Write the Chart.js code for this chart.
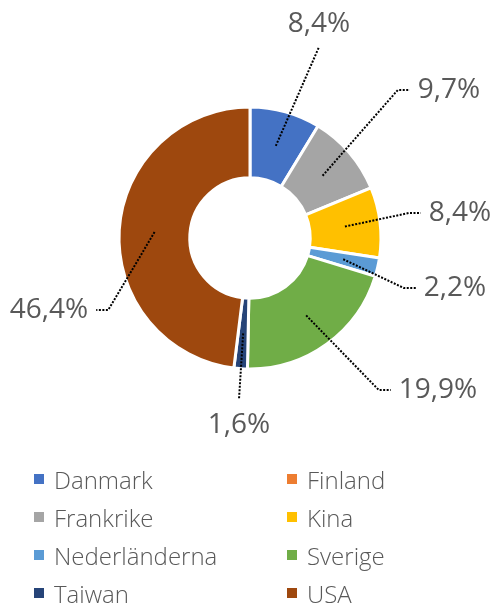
<!DOCTYPE html>
<html>
<head>
<meta charset="utf-8">
<script src="https://cdn.jsdelivr.net/npm/chart.js@4.4.1/dist/chart.umd.min.js"></script>
<style>
  html, body { margin: 0; padding: 0; background: #fff; }
  #wrap { position: relative; width: 495px; height: 606px; overflow: hidden; }
  #chart { position: absolute; left: 0; top: 0; }
  #legend {
    position: absolute; left: 34px; top: 460px; width: 461px;
    display: grid; grid-template-columns: 253px 200px;
    font-family: "Open Sans", sans-serif; font-weight: 300; font-size: 24px; color: #595959;
  }
  .item { display: flex; align-items: center; height: 38px; white-space: nowrap; }
  .box { width: 10px; height: 10px; margin-right: 10px; flex: none; }
</style>
</head>
<body>
<div id="wrap">
  <canvas id="chart" width="495" height="606"></canvas>
  <div id="legend"></div>
</div>
<script>
// Data (share of total, %)
const countries = ['Danmark', 'Finland', 'Frankrike', 'Kina', 'Nederländerna', 'Sverige', 'Taiwan', 'USA'];
const shares = [8.4, 0, 9.7, 8.4, 2.2, 19.9, 1.6, 46.4];
const colors = ['#4472C4', '#ED7D31', '#A5A5A5', '#FFC000', '#5B9BD5', '#70AD47', '#264478', '#9E480E'];

// where each data label sits, relative to the doughnut centre, and which side the leader line meets it
const labelSpots = [[69, -214, 'top'], null, [199, -148, 'right'], [210, -25, 'right'],
                    [205, 50, 'right'], [188, 152, 'right'], [-11, 187, 'bottom'], [-201, 72, 'left']];

const fmt = v => v.toFixed(1).replace('.', ',') + '%';

// data labels with dotted leader lines
const leaderLabels = {
    id: 'leaderLabels',
    afterDatasetsDraw(chart) {
        const ctx = chart.ctx;
        const meta = chart.getDatasetMeta(0);
        const cx = (chart.chartArea.left + chart.chartArea.right) / 2;
        const cy = (chart.chartArea.top + chart.chartArea.bottom) / 2;
        ctx.save();
        ctx.font = '28px "Open Sans", sans-serif';
        ctx.textAlign = 'center';
        ctx.textBaseline = 'middle';
        meta.data.forEach((arc, i) => {
            const spot = labelSpots[i];
            if (!spot || !shares[i]) return;
            const text = fmt(shares[i]);
            const tx = cx + spot[0], ty = cy + spot[1];
            const w = ctx.measureText(text).width;
            const p = arc.tooltipPosition();
            const pts = [[p.x, p.y]];
            if (spot[2] === 'right') {
                const ex = tx - w / 2 - 8;
                pts.push([ex - 12, ty], [ex, ty]);
            } else if (spot[2] === 'left') {
                const ex = tx + w / 2 + 8;
                pts.push([ex + 12, ty], [ex, ty]);
            } else if (spot[2] === 'top') {
                pts.push([tx, ty + 23]);
            } else {
                pts.push([tx, ty - 26]);
            }
            ctx.beginPath();
            ctx.setLineDash([2, 1.5]);
            ctx.lineWidth = 2;
            ctx.strokeStyle = '#000';
            pts.forEach((q, k) => k ? ctx.lineTo(q[0], q[1]) : ctx.moveTo(q[0], q[1]));
            ctx.stroke();
            ctx.setLineDash([]);
            ctx.fillStyle = '#595959';
            ctx.fillText(text, tx, ty);
        });
        ctx.restore();
    }
};

new Chart(document.getElementById('chart'), {
    type: 'doughnut',
    data: {
        labels: countries,
        datasets: [{
            data: shares,
            backgroundColor: colors,
            borderColor: '#ffffff',
            borderWidth: 3,
            hoverOffset: 0
        }]
    },
    options: {
        responsive: false,
        animation: false,
        radius: 131,
        cutout: 60,
        layout: { padding: { left: 118, right: 113, top: 106, bottom: 236 } },
        plugins: {
            legend: { display: false },
            tooltip: { enabled: false }
        }
    },
    plugins: [leaderLabels]
});

// legend, two columns
const legend = document.getElementById('legend');
countries.forEach((name, i) => {
    const item = document.createElement('div');
    item.className = 'item';
    item.innerHTML = '<span class="box" style="background:' + colors[i] + '"></span>' + name;
    legend.appendChild(item);
});
</script>
</body>
</html>
